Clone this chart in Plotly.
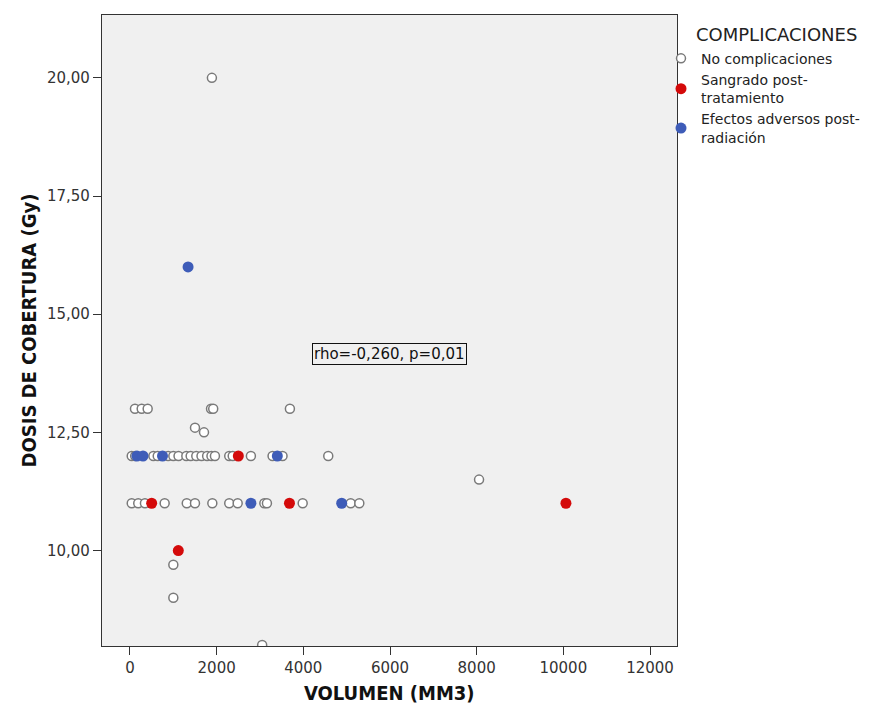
import plotly.graph_objects as go

# ---- data ----
no_comp_x = [1890,
             115, 270, 408, 1870, 1920, 3690,
             1500, 1708,
             40, 120, 540, 640, 880, 1000, 1120, 1300, 1400, 1530, 1650, 1780, 1880, 1960,
             2290, 2370, 2790, 3290, 3520, 4575,
             40, 190, 345, 800, 1310, 1500, 1900, 2290, 2485, 3100, 3160, 3985, 5093, 5292,
             8055,
             1000, 1000, 3050]
no_comp_y = [20.0,
             13.0, 13.0, 13.0, 13.0, 13.0, 13.0,
             12.6, 12.5,
             12.0, 12.0, 12.0, 12.0, 12.0, 12.0, 12.0, 12.0, 12.0, 12.0, 12.0, 12.0, 12.0, 12.0,
             12.0, 12.0, 12.0, 12.0, 12.0, 12.0,
             11.0, 11.0, 11.0, 11.0, 11.0, 11.0, 11.0, 11.0, 11.0, 11.0, 11.0, 11.0, 11.0, 11.0,
             11.5,
             9.7, 9.0, 8.0]

sangrado_x = [500, 1115, 2500, 3680, 10060]
sangrado_y = [11.0, 10.0, 12.0, 11.0, 11.0]

efectos_x = [1340, 160, 300, 750, 3400, 2790, 4885]
efectos_y = [16.0, 12.0, 12.0, 12.0, 12.0, 11.0, 11.0]

series_names = ["No complicaciones", "Sangrado post-<br>tratamiento",
                "Efectos adversos post-<br>radiación"]
legend_title = "COMPLICACIONES"

x_tick_vals = [0, 2000, 4000, 6000, 8000, 10000, 12000]
x_tick_labels = ["0", "2000", "4000", "6000", "8000", "10000", "12000"]
y_tick_vals = [10.0, 12.5, 15.0, 17.5, 20.0]
y_tick_labels = ["10,00", "12,50", "15,00", "17,50", "20,00"]

x_title = "VOLUMEN (MM3)"
y_title = "DOSIS DE COBERTURA (Gy)"
stat_text = "rho=-0,260, p=0,01"
stat_pos = (5977, 14.15)

# ---- styling ----
FONT = "DejaVu Sans"
TITLE_FONT = "DejaVu Sans Condensed, Liberation Sans Narrow, DejaVu Sans"
RED = "#d40a0a"
BLUE = "#3e5cb8"

fig = go.Figure()
fig.add_trace(go.Scatter(
    x=no_comp_x, y=no_comp_y, mode="markers", name=series_names[0],
    marker=dict(size=9, color="white", line=dict(color="#7a7a7a", width=1.5)),
))
fig.add_trace(go.Scatter(
    x=sangrado_x, y=sangrado_y, mode="markers", name=series_names[1],
    marker=dict(size=11, color=RED, line=dict(width=0)),
))
fig.add_trace(go.Scatter(
    x=efectos_x, y=efectos_y, mode="markers", name=series_names[2],
    marker=dict(size=11, color=BLUE, line=dict(width=0)),
))

axis_common = dict(
    showgrid=False, zeroline=False, showline=True, mirror=True,
    linecolor="#333333", linewidth=1.3,
    ticks="outside", ticklen=8, tickcolor="#333333", tickwidth=1.3,
    tickfont=dict(family=FONT, size=15, color="#333333"),
)

fig.update_layout(
    width=871, height=711,
    margin=dict(l=102, r=194, t=15, b=65, autoexpand=False),
    paper_bgcolor="white", plot_bgcolor="#f0f0f0",
    font=dict(family=FONT, color="#222222"),
    xaxis=dict(range=[-646, 12623], tickvals=x_tick_vals, ticktext=x_tick_labels,
               **axis_common),
    yaxis=dict(range=[7.98, 21.33], tickvals=y_tick_vals, ticktext=y_tick_labels,
               **axis_common),
    showlegend=True,
    legend=dict(x=(661 - 102) / 575, xanchor="left", y=0.956, yanchor="top",
                bgcolor="rgba(0,0,0,0)", borderwidth=0,
                font=dict(family=FONT, size=14, color="#222222"),
                itemwidth=30, tracegroupgap=0),
    annotations=[
        dict(text=legend_title, xref="paper", yref="paper",
             x=(694 - 102) / 575, y=1 - (35 - 15) / 631, xanchor="left", yanchor="middle",
             showarrow=False, font=dict(family=FONT, size=18, color="#222222")),
        dict(text=x_title, xref="paper", yref="paper", x=0.5, y=-(693 - 646) / 631,
             xanchor="center", yanchor="middle", showarrow=False,
             font=dict(family=TITLE_FONT, size=20, color="#111111", weight="bold")),
        dict(text=y_title, xref="paper", yref="paper", x=(28 - 102) / 575, y=0.5,
             xanchor="center", yanchor="middle", textangle=-90, showarrow=False,
             font=dict(family=TITLE_FONT, size=20, color="#111111", weight="bold")),
        dict(text=stat_text, x=stat_pos[0], y=stat_pos[1], xref="x", yref="y",
             showarrow=False, bordercolor="#111111", borderwidth=1, borderpad=1,
             bgcolor="#f0f0f0", font=dict(family=FONT, size=15, color="#111111")),
    ],
)

fig.write_html("out.html",
               config={"displayModeBar": False},
               post_script="document.body.style.margin='0px';"
                           "document.body.style.overflow='hidden';")
